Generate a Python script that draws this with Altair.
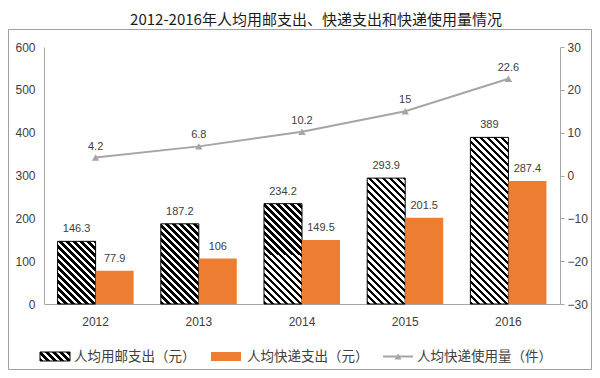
import altair as alt
import pandas as pd

# ---- data ----
years = ["2012", "2013", "2014", "2015", "2016"]
postal_spend = [146.3, 187.2, 234.2, 293.9, 389]
express_spend = [77.9, 106, 149.5, 201.5, 287.4]
express_usage = [4.2, 6.8, 10.2, 15, 22.6]
left_ticks = [0, 100, 200, 300, 400, 500, 600]
right_ticks = [-30, -20, -10, 0, 10, 20, 30]
series_names = ["人均用邮支出（元）", "人均快递支出（元）", "人均快递使用量（件）"]
title_text = "2012-2016年人均用邮支出、快递支出和快递使用量情况"

# ---- layout / style ----
W, H = 516, 257
Y_MAX = 600
step = W / len(years)
bar_w = 38
pin = 1 - (2 * bar_w) / step
pout = pin / 2
GRAY_AXIS = "#A6A6A6"
LINE_GRAY = "#A5A5A5"
ORANGE = "#ED7D31"
TXT = "#404040"
NUM_FONT = "Liberation Sans"
CJK_FONT = "Noto Sans CJK SC"


def hatch(w, h, period=7.0, frac=0.5, c1="#000000", c2="#ffffff"):
    """Diagonal '\\' stripes as a hard-stop linear gradient (SVG bbox units)."""
    n = (w + h) / period
    stops = []
    i = 0
    while i / n < 1:
        a = i / n
        b = min((i + frac) / n, 1.0)
        c = min((i + 1) / n, 1.0)
        stops += [(a, c1), (b, c1), (b, c2), (c, c2)]
        i += 1
    k = (w + h) / (w * w + h * h)
    return alt.LinearGradient(
        gradient="linear",
        stops=[alt.GradientStop(offset=o, color=col) for o, col in stops],
        x1=0, y1=1, x2=w * k, y2=1 - h * k,
    )


df = pd.DataFrame({
    "year": years * 2,
    "series": [series_names[0]] * len(years) + [series_names[1]] * len(years),
    "value": postal_spend + express_spend,
})
line_df = pd.DataFrame({"year": years, "usage": express_usage})

X = alt.X("year:N", sort=years,
          scale=alt.Scale(paddingInner=pin, paddingOuter=pout),
          axis=alt.Axis(title=None, labelAngle=0, ticks=False, tickSize=0,
                        labelPadding=12, domainColor=GRAY_AXIS, domainWidth=1,
                        labelFont=NUM_FONT, labelFontSize=12, labelColor=TXT))
XO = alt.XOffset("series:N",
                 scale=alt.Scale(domain=series_names[:2], paddingInner=0, paddingOuter=0))
YL = alt.Y("value:Q", scale=alt.Scale(domain=[0, Y_MAX], nice=False),
           axis=alt.Axis(title=None, values=left_ticks, grid=False, ticks=False,
                         tickSize=0, labelPadding=9, domainColor=GRAY_AXIS,
                         labelFont=NUM_FONT, labelFontSize=12, labelColor=TXT))
YR = alt.Y("usage:Q", scale=alt.Scale(domain=[-30, 30], nice=False),
           axis=alt.Axis(title=None, orient="right", values=right_ticks, grid=False,
                         ticks=True, tickSize=4, tickColor=GRAY_AXIS, labelPadding=3,
                         domainColor=GRAY_AXIS, labelFont=NUM_FONT, labelFontSize=12,
                         labelColor=TXT))

base = alt.Chart(df)

hatched_layers = []
for yr, v in zip(years, postal_spend):
    hatched_layers.append(
        base.transform_filter(
            f"datum.year == '{yr}' && datum.series == '{series_names[0]}'"
        ).mark_bar(fill=hatch(bar_w, v / Y_MAX * H), stroke="#000000", strokeWidth=1)
        .encode(x=X, xOffset=XO, y=YL)
    )

orange_bars = base.transform_filter(
    f"datum.series == '{series_names[1]}'"
).mark_bar(color=ORANGE).encode(x=X, xOffset=XO, y=YL)

bar_labels = base.mark_text(dy=-12, font=NUM_FONT, fontSize=11, color=TXT).encode(
    x=X, xOffset=XO, y=YL, text=alt.Text("value:Q", format=".1~f"))

bars = alt.layer(*hatched_layers, orange_bars, bar_labels)

line_base = alt.Chart(line_df)
line = line_base.mark_line(
    color=LINE_GRAY, strokeWidth=2,
    point=alt.OverlayMarkDef(shape="triangle-up", size=55, filled=True,
                             color=LINE_GRAY, opacity=1),
).encode(x=X, y=YR)
line_labels = line_base.mark_text(dy=-11, font=NUM_FONT, fontSize=11, color=TXT).encode(
    x=X, y=YR, text=alt.Text("usage:Q", format=".1~f"))
lines = alt.layer(line, line_labels)

# ---- outer frame ----
one = pd.DataFrame({"k": [0]})
frame = alt.Chart(one).mark_rect(fillOpacity=0, stroke="#A0A0A0", strokeWidth=1).encode(
    x=alt.value(-35.5), x2=alt.value(547.5), y=alt.value(-17.5), y2=alt.value(322.5))

# ---- manual legend ----
leg_y0, leg_y1 = 305, 314
leg_mid = (leg_y0 + leg_y1) / 2
lg1 = alt.Chart(one).mark_rect(fill=hatch(30, 9), stroke="#000000", strokeWidth=1).encode(
    x=alt.value(-4), x2=alt.value(26), y=alt.value(leg_y0), y2=alt.value(leg_y1))
lg2 = alt.Chart(one).mark_rect(color=ORANGE).encode(
    x=alt.value(167), x2=alt.value(197), y=alt.value(leg_y0), y2=alt.value(leg_y1))
lg3 = alt.Chart(one).mark_rule(color=LINE_GRAY, strokeWidth=2).encode(
    x=alt.value(339), x2=alt.value(369), y=alt.value(leg_mid))
lg3p = alt.Chart(one).mark_point(shape="triangle-up", size=50, filled=True,
                                 color=LINE_GRAY, opacity=1).encode(
    x=alt.value(354), y=alt.value(leg_mid))

leg_text = []
for name, lx in zip(series_names, [30, 203, 373]):
    leg_text.append(
        alt.Chart(pd.DataFrame({"label": [name]})).mark_text(
            align="left", baseline="middle", font=CJK_FONT, fontSize=13.5, color=TXT
        ).encode(x=alt.value(lx), y=alt.value(leg_mid), text="label:N")
    )

chart = alt.layer(
    frame, bars, lines, lg1, lg2, lg3, lg3p, *leg_text
).resolve_scale(y="independent").properties(
    width=W, height=H,
    autosize=alt.AutoSizeParams(type="none"),
    padding={"left": 36, "top": 39, "right": 32, "bottom": 66},
    title=alt.TitleParams(text=title_text, font=CJK_FONT, fontSize=15,
                          fontWeight="normal", color="#1a1a1a", anchor="middle",
                          frame="group", dx=14, offset=1),
).configure_view(stroke="transparent")

chart.save("out.html", embed_options={"renderer": "svg", "actions": False})
